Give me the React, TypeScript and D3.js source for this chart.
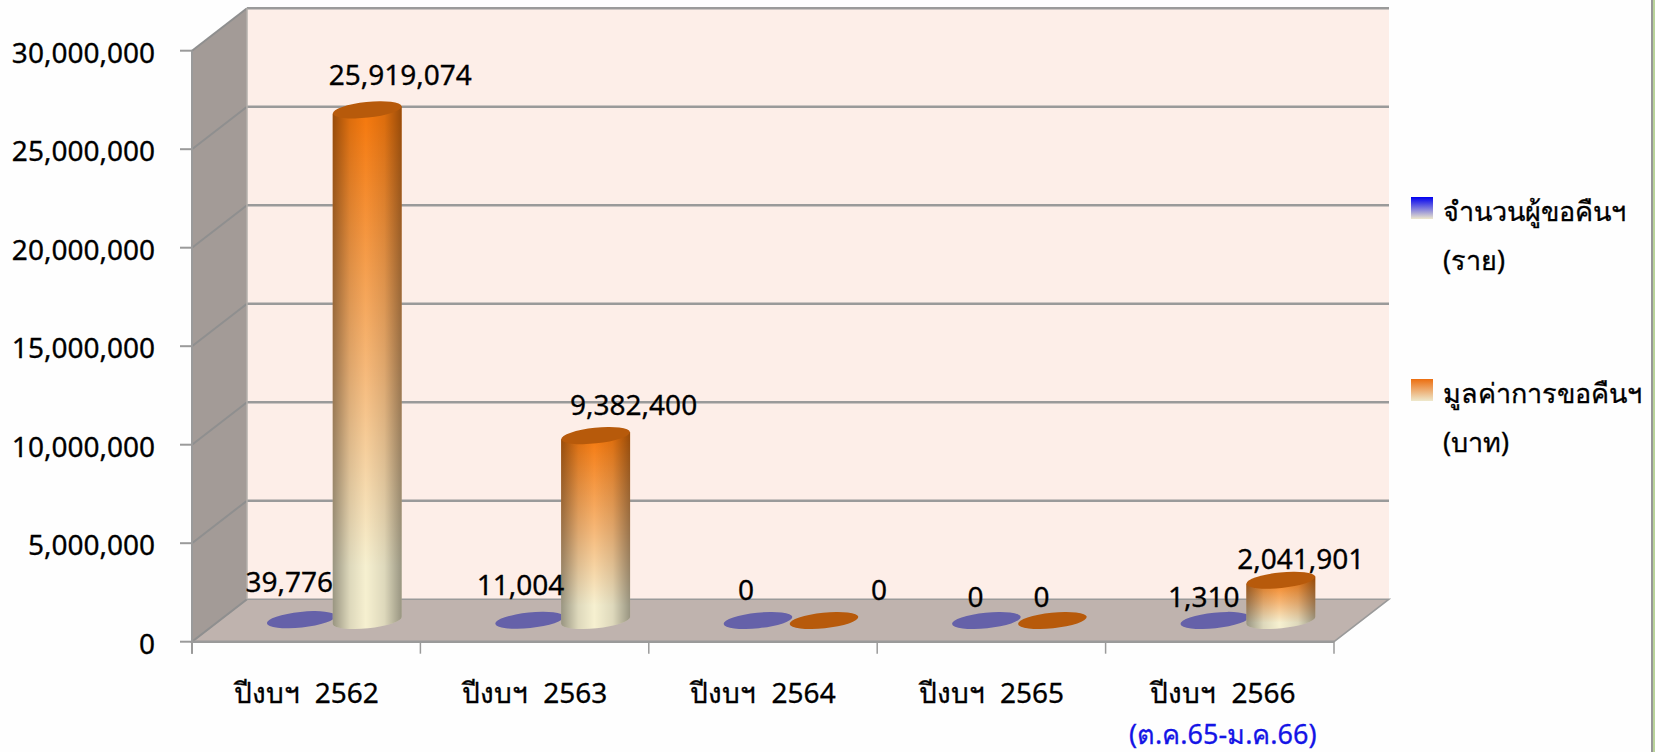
import React, { useEffect, useRef } from 'react';
import * as d3 from 'd3';

const categories = ['ปีงบฯ 2562', 'ปีงบฯ 2563', 'ปีงบฯ 2564', 'ปีงบฯ 2565', 'ปีงบฯ 2566'];
const requesters = [39776, 11004, 0, 0, 1310];
const amounts = [25919074, 9382400, 0, 0, 2041901];
const yTicks = [0, 5000000, 10000000, 15000000, 20000000, 25000000, 30000000];
const legendLabels = [['จำนวนผู้ขอคืนฯ', '(ราย)'], ['มูลค่าการขอคืนฯ', '(บาท)']];
const subLabel = '(ต.ค.65-ม.ค.66)';

// hand placed data labels in the original, [dx, dy] from the top of the bar
const requesterNudge = [[-12, -28], [-9, -25], [-12, -20], [-11, -13], [-11, -13]];
const amountNudge = [[32, -25], [37, -21], [54, -20], [-12, -13], [19, -11]];

const App: React.FC = () => {
  const svgRef = useRef<SVGSVGElement | null>(null);

  useEffect(() => {
    if (!svgRef.current) return;
    const svg = d3.select(svgRef.current);
    svg.selectAll('*').remove();

    const width = 1655;
    const height = 752;
    const font = '"Noto Sans", "DejaVu Sans", sans-serif';
    const fontSize = 28;
    const gridColor = '#9a9a9a';

    // front plane of the 3D box and how far the back wall is shifted
    const left = 192;
    const right = 1334;
    const top = 50.7;
    const bottom = 641.7;
    const depthX = 55;
    const depthY = -42.5;

    const x = d3.scaleBand<string>().domain(categories).range([left, right]);
    const y = d3.scaleLinear().domain([0, 30000000]).range([bottom, top]);
    const fmt = d3.format(',');

    const defs = svg.append('defs');

    const orange = defs.append('linearGradient').attr('id', 'orangeBar').attr('x1', 0).attr('x2', 0).attr('y1', 0).attr('y2', 1);
    orange.append('stop').attr('offset', '3%').attr('stop-color', '#f57a10');
    orange.append('stop').attr('offset', '50%').attr('stop-color', '#f6b878');
    orange.append('stop').attr('offset', '88%').attr('stop-color', '#f6f0d0');
    orange.append('stop').attr('offset', '100%').attr('stop-color', '#f6f0d0');

    const shade = defs.append('linearGradient').attr('id', 'barShade');
    shade.append('stop').attr('offset', '0%').attr('stop-color', '#000').attr('stop-opacity', 0.38);
    shade.append('stop').attr('offset', '25%').attr('stop-color', '#000').attr('stop-opacity', 0.1);
    shade.append('stop').attr('offset', '48%').attr('stop-color', '#000').attr('stop-opacity', 0);
    shade.append('stop').attr('offset', '75%').attr('stop-color', '#000').attr('stop-opacity', 0.1);
    shade.append('stop').attr('offset', '100%').attr('stop-color', '#000').attr('stop-opacity', 0.38);

    const legendBlue = defs.append('linearGradient').attr('id', 'legendBlue').attr('x1', 0).attr('x2', 0).attr('y1', 0).attr('y2', 1);
    legendBlue.append('stop').attr('offset', '0%').attr('stop-color', '#0000f0');
    legendBlue.append('stop').attr('offset', '100%').attr('stop-color', '#eee8cc');
    const legendOrange = defs.append('linearGradient').attr('id', 'legendOrange').attr('x1', 0).attr('x2', 0).attr('y1', 0).attr('y2', 1);
    legendOrange.append('stop').attr('offset', '0%').attr('stop-color', '#ec6e10');
    legendOrange.append('stop').attr('offset', '100%').attr('stop-color', '#eee8cc');

    // page edge
    svg.append('rect').attr('width', width).attr('height', height).attr('fill', '#fefefe');
    svg.append('rect').attr('x', 1651).attr('width', 2).attr('height', height).attr('fill', '#979797');
    svg.append('rect').attr('x', 1653).attr('width', 2).attr('height', height).attr('fill', '#b9d39a');

    const g = svg.append('g');

    const addText = (tx: number, ty: number, str: string, anchor: string, fill = '#000', size = fontSize) =>
      g.append('text')
        .attr('x', tx).attr('y', ty)
        .attr('text-anchor', anchor).attr('font-family', font).attr('font-size', size)
        .attr('fill', fill).attr('stroke', fill).attr('stroke-width', 0.3)
        .text(str);

    // --- walls ---
    g.append('rect')
      .attr('x', left + depthX).attr('y', top + depthY)
      .attr('width', right - left).attr('height', bottom - top)
      .attr('fill', '#fdeee8');
    g.append('polygon')
      .attr('points', [[left, top], [left + depthX, top + depthY], [left + depthX, bottom + depthY], [left, bottom]].join(' '))
      .attr('fill', '#a39b97');
    g.append('polygon')
      .attr('points', [[left, bottom], [left + depthX, bottom + depthY], [right + depthX, bottom + depthY], [right, bottom]].join(' '))
      .attr('fill', '#bfb3ae')
      .attr('stroke', gridColor).attr('stroke-width', 1.5);

    // --- grid ---
    yTicks.forEach(t => {
      if (t > 0) {
        g.append('line')
          .attr('x1', left + depthX).attr('x2', right + depthX)
          .attr('y1', y(t) + depthY).attr('y2', y(t) + depthY)
          .attr('stroke', gridColor).attr('stroke-width', 2.5);
      }
      g.append('line')
        .attr('x1', left).attr('x2', left + depthX)
        .attr('y1', y(t)).attr('y2', y(t) + depthY)
        .attr('stroke', '#8f8f8f').attr('stroke-width', 2);
      g.append('line')
        .attr('x1', 180).attr('x2', left)
        .attr('y1', y(t)).attr('y2', y(t))
        .attr('stroke', gridColor).attr('stroke-width', 2);
      addText(155, y(t) + 12, fmt(t), 'end');
    });

    g.append('line').attr('x1', left + depthX).attr('x2', left + depthX).attr('y1', top + depthY).attr('y2', bottom + depthY).attr('stroke', '#b5b0ac').attr('stroke-width', 1.5);
    g.append('line').attr('x1', left).attr('x2', left).attr('y1', top).attr('y2', bottom + 12).attr('stroke', gridColor).attr('stroke-width', 2);
    g.append('line').attr('x1', left).attr('x2', right).attr('y1', bottom).attr('y2', bottom).attr('stroke', gridColor).attr('stroke-width', 2.5);

    // category ticks
    [...categories.map(c => x(c) as number), right].forEach(px => {
      g.append('line').attr('x1', px).attr('x2', px).attr('y1', bottom).attr('y2', bottom + 12).attr('stroke', gridColor).attr('stroke-width', 1.5);
    });

    categories.forEach(c => {
      addText((x(c) as number) + x.bandwidth() / 2 + (c === categories[4] ? 3 : 0), 703, c, 'middle')
        .attr('word-spacing', 8);
    });
    addText((x(categories[4]) as number) + x.bandwidth() / 2 + 3, 744, subLabel, 'middle', '#1414e6', 27);

    // --- cylinders, they stand in the middle of the floor depth ---
    const rx = 34.5;
    const ry = 7.8;
    const tilt = -6;
    const rise = rx * Math.tan((-tilt * Math.PI) / 180);
    const midX = depthX / 2;
    const midY = depthY / 2;

    const disc = (cx: number, cy: number, fill: string) =>
      g.append('ellipse')
        .attr('cx', cx).attr('cy', cy).attr('rx', rx).attr('ry', ry)
        .attr('transform', `rotate(${tilt} ${cx} ${cy})`)
        .attr('fill', fill);

    const label = (value: number, cx: number, cy: number, nudge: number[]) =>
      addText(cx + nudge[0], cy + nudge[1], fmt(value), 'middle');

    categories.forEach((c, i) => {
      const center = (x(c) as number) + x.bandwidth() / 2 + midX;
      const baseY = bottom + midY;

      // blue series is too small against the axis, it stays a flat disc
      disc(center - rx + 2, y(requesters[i]) + midY, '#6561a9');

      const ox = center + rx - 1;
      const oTop = y(amounts[i]) + midY;
      if (amounts[i] > 0) {
        const d = `M${ox - rx},${oTop + rise} L${ox - rx},${baseY + rise} `
          + `A${rx},${ry} ${tilt} 0 0 ${ox + rx},${baseY - rise} L${ox + rx},${oTop - rise} Z`;
        g.append('path').attr('d', d).attr('fill', 'url(#orangeBar)');
        g.append('path').attr('d', d).attr('fill', 'url(#barShade)');
      }
      disc(ox, oTop, '#b75a0b');
    });

    categories.forEach((c, i) => {
      const center = (x(c) as number) + x.bandwidth() / 2 + midX;
      label(requesters[i], center - rx + 2, y(requesters[i]) + midY, requesterNudge[i]);
      label(amounts[i], center + rx, y(amounts[i]) + midY, amountNudge[i]);
    });

    // --- legend ---
    const legendY = d3.scalePoint<number>().domain([0, 1]).range([197, 379]);
    legendLabels.forEach((lines, i) => {
      const ly = legendY(i) as number;
      g.append('rect').attr('x', 1411).attr('y', ly).attr('width', 22).attr('height', 22)
        .attr('fill', i === 0 ? 'url(#legendBlue)' : 'url(#legendOrange)');
      lines.forEach((line, j) => {
        addText(1443, ly + 24 + j * 48.5, line, 'start', '#000', 27);
      });
    });
  }, []);

  return <svg ref={svgRef} width={1655} height={752} style={{ position: 'absolute', left: 0, top: 0 }} />;
};

export default App;
